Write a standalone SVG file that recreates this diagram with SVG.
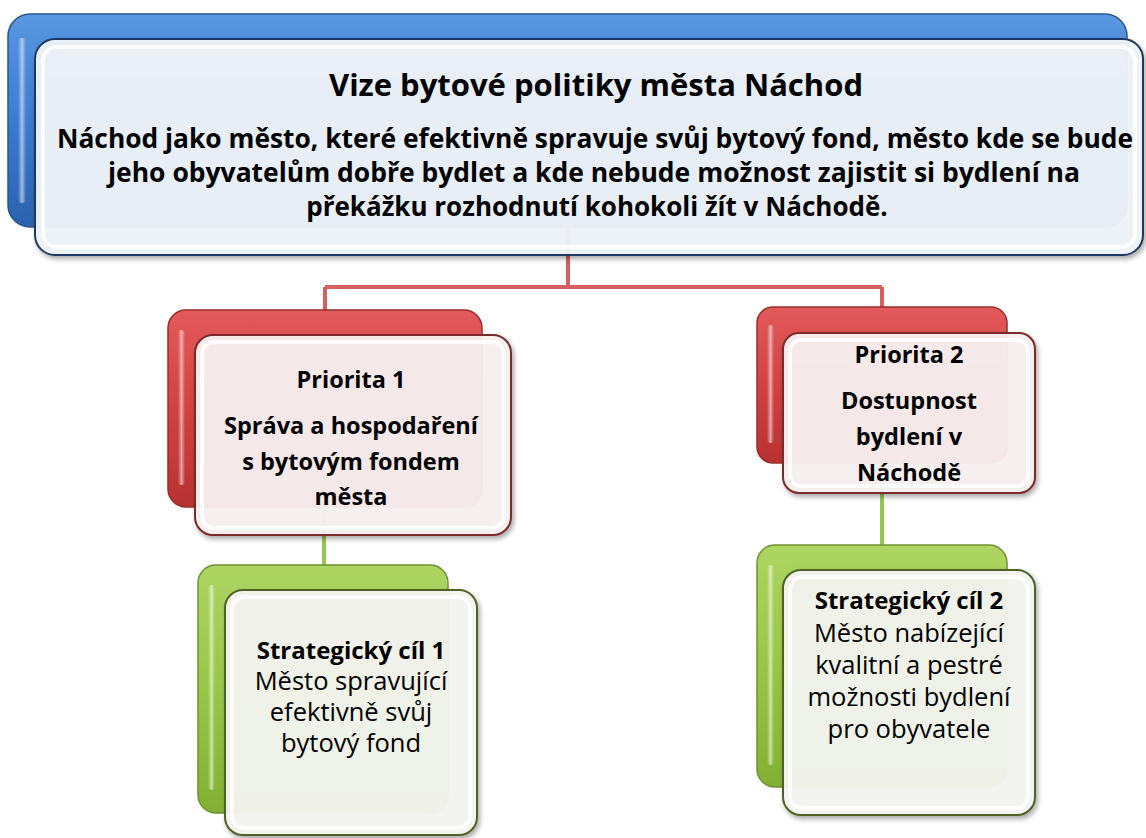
<svg xmlns="http://www.w3.org/2000/svg" width="1146" height="838" viewBox="0 0 1146 838">
  <defs>
    <linearGradient id="gBlue" x1="0" y1="0" x2="0" y2="1">
      <stop offset="0" stop-color="#5a97e0"/>
      <stop offset="0.5" stop-color="#3c7bd0"/>
      <stop offset="1" stop-color="#2b62ad"/>
    </linearGradient>
    <linearGradient id="gRed" x1="0" y1="0" x2="0" y2="1">
      <stop offset="0" stop-color="#e25a5a"/>
      <stop offset="0.5" stop-color="#d24242"/>
      <stop offset="1" stop-color="#b83232"/>
    </linearGradient>
    <linearGradient id="gGreen" x1="0" y1="0" x2="0" y2="1">
      <stop offset="0" stop-color="#aed563"/>
      <stop offset="0.5" stop-color="#98c647"/>
      <stop offset="1" stop-color="#82b034"/>
    </linearGradient>
    <linearGradient id="gHi" x1="0" y1="0" x2="1" y2="0">
      <stop offset="0" stop-color="#ffffff" stop-opacity="0"/>
      <stop offset="0.5" stop-color="#ffffff" stop-opacity="0.55"/>
      <stop offset="1" stop-color="#ffffff" stop-opacity="0"/>
    </linearGradient>
    <filter id="sh" x="-10%" y="-10%" width="120%" height="125%">
      <feDropShadow dx="2" dy="3" stdDeviation="2.5" flood-color="#000" flood-opacity="0.35"/>
    </filter>
  </defs>
  <style>
    .back { stroke-width: 1.5; }
    .bb { fill: url(#gBlue); stroke: #2a5590; }
    .rb { fill: url(#gRed); stroke: #9a2c2c; }
    .gb { fill: url(#gGreen); stroke: #6f9330; }
    .front { stroke-width: 2; filter: url(#sh); }
    .bf { fill: #eef2f8; fill-opacity: 0.96; stroke: #1f3864; }
    .rf { fill: #f8f0f0; fill-opacity: 0.95; stroke: #7b2a2a; }
    .gf { fill: #f4f6f0; fill-opacity: 0.95; stroke: #4f6228; }
    .inner { fill: none; stroke: #ffffff; stroke-width: 4; stroke-opacity: 0.8; }
    .hl { fill: url(#gHi); }
    .conR { fill: none; stroke: #d24f4f; stroke-width: 4; stroke-opacity: 0.9; }
    .conG { fill: none; stroke: #93c24a; stroke-width: 4; stroke-opacity: 0.95; }
    text { font-family: "Open Sans", "Liberation Sans", sans-serif; fill: #000; text-anchor: middle; }
    .t { font-size: 31px; font-weight: bold; }
    .m { font-size: 26px; font-weight: bold; }
    .p { font-size: 23.5px; font-weight: bold; }
    .s { font-size: 25.5px; }
    .sb { font-size: 24px; font-weight: bold; }
  </style>

  <g id="connectors">
    <path class="conR" d="M568 227 V287 M325 287 H882 M325 287 V310 M882 287 V307"/>
    <path class="conG" d="M324 507 V565 M882 463 V545"/>
  </g>

  <g id="vize">
    <rect class="back bb" x="8" y="14" width="1119" height="213" rx="22"/>
    <rect class="hl" x="18" y="38" width="8" height="165" rx="4"/>
    <rect class="front bf" x="35" y="39" width="1108" height="216" rx="20"/>
    <rect class="inner" x="43" y="47" width="1092" height="200" rx="14"/>
    <text class="t" x="596" y="96">Vize bytové politiky města Náchod</text>
    <text class="m" x="595" y="148" textLength="1076" lengthAdjust="spacingAndGlyphs">Náchod jako město, které efektivně spravuje svůj bytový fond, město kde se bude</text>
    <text class="m" x="594" y="182" textLength="972" lengthAdjust="spacingAndGlyphs">jeho obyvatelům dobře bydlet a kde nebude možnost zajistit si bydlení na</text>
    <text class="m" x="597" y="216">překážku rozhodnutí kohokoli žít v Náchodě.</text>
  </g>

  <g id="priorita1">
    <rect class="back rb" x="168" y="310" width="314" height="197" rx="18"/>
    <rect class="hl" x="178" y="330" width="7" height="155" rx="3.5"/>
    <rect class="front rf" x="195" y="335" width="316" height="200" rx="18"/>
    <rect class="inner" x="202" y="342" width="302" height="186" rx="12"/>
    <text class="p" x="351" y="388">Priorita 1</text>
    <text class="p" x="351" y="434">Správa a hospodaření</text>
    <text class="p" x="351" y="470">s bytovým fondem</text>
    <text class="p" x="351" y="505">města</text>
  </g>

  <g id="priorita2">
    <rect class="back rb" x="757" y="307" width="250" height="156" rx="16"/>
    <rect class="hl" x="767" y="325" width="7" height="118" rx="3.5"/>
    <rect class="front rf" x="783" y="333" width="252" height="160" rx="16"/>
    <rect class="inner" x="790" y="340" width="238" height="146" rx="11"/>
    <text class="p" x="909" y="363">Priorita 2</text>
    <text class="p" x="909" y="409">Dostupnost</text>
    <text class="p" x="909" y="445">bydlení v</text>
    <text class="p" x="909" y="481">Náchodě</text>
  </g>

  <g id="cil1">
    <rect class="back gb" x="198" y="565" width="250" height="248" rx="18"/>
    <rect class="hl" x="208" y="585" width="7" height="205" rx="3.5"/>
    <rect class="front gf" x="225" y="590" width="252" height="245" rx="18"/>
    <rect class="inner" x="232" y="597" width="238" height="231" rx="12"/>
    <text class="sb" x="351" y="659">Strategický cíl 1</text>
    <text class="s" x="351" y="690">Město spravující</text>
    <text class="s" x="351" y="721">efektivně svůj</text>
    <text class="s" x="351" y="752">bytový fond</text>
  </g>

  <g id="cil2">
    <rect class="back gb" x="757" y="545" width="250" height="242" rx="18"/>
    <rect class="hl" x="767" y="565" width="7" height="200" rx="3.5"/>
    <rect class="front gf" x="783" y="570" width="252" height="245" rx="18"/>
    <rect class="inner" x="790" y="577" width="238" height="231" rx="12"/>
    <text class="sb" x="909" y="609">Strategický cíl 2</text>
    <text class="s" x="909" y="642">Město nabízející</text>
    <text class="s" x="909" y="674">kvalitní a pestré</text>
    <text class="s" x="909" y="706">možnosti bydlení</text>
    <text class="s" x="909" y="738">pro obyvatele</text>
  </g>
</svg>
